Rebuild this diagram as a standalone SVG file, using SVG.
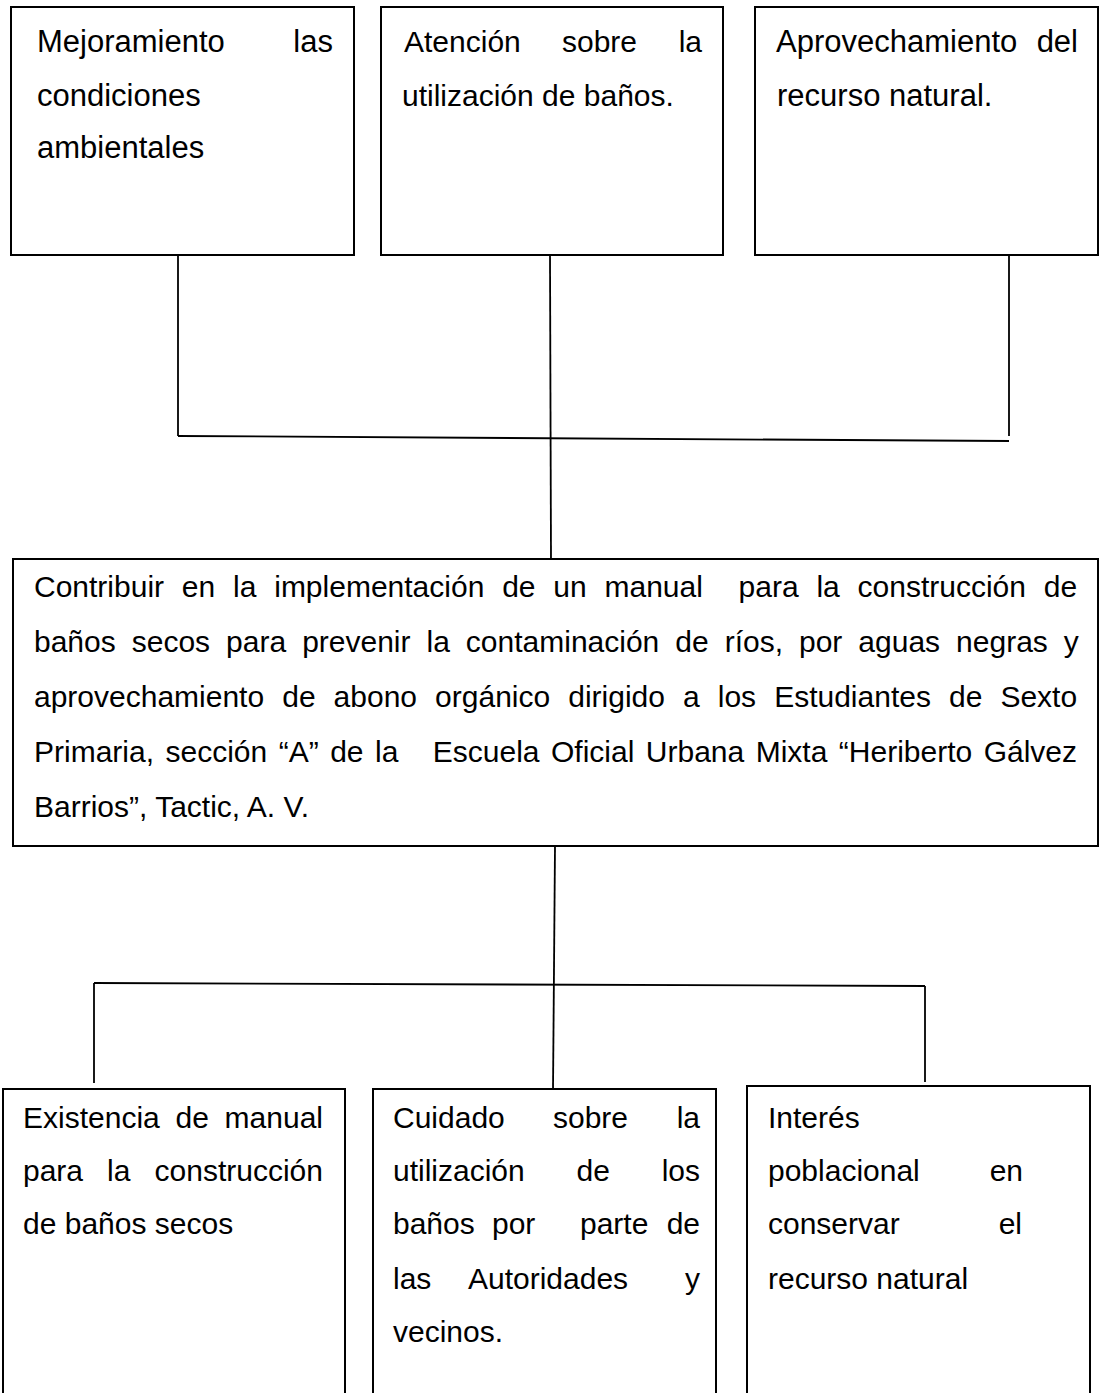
<svg xmlns="http://www.w3.org/2000/svg" width="1100" height="1393" viewBox="0 0 1100 1393">
<style>
.box{fill:#fff;stroke:#000;stroke-width:2}
.con line{stroke:#000;stroke-width:1.8}
text{font-family:"Liberation Sans",Arial,sans-serif;font-size:30px;fill:#000}
.big text{font-size:31px}
.e{text-anchor:end}
</style>
<rect width="1100" height="1393" fill="#fff"/>
<g id="connectors" class="con">
<line x1="178" y1="255" x2="178" y2="436"/>
<line x1="1009" y1="255" x2="1009" y2="436"/>
<line x1="178" y1="436" x2="1009" y2="441"/>
<line x1="550" y1="255" x2="551" y2="559"/>
<line x1="555" y1="846" x2="553" y2="1091"/>
<line x1="94" y1="983" x2="925" y2="986"/>
<line x1="94" y1="983" x2="94" y2="1083"/>
<line x1="925" y1="986" x2="925" y2="1082"/>
</g>
<g id="top1" class="big">
<rect class="box" x="11" y="7" width="343" height="248"/>
<text x="37" y="52">Mejoramiento</text><text class="e" x="333" y="52">las</text>
<text x="37" y="106">condiciones</text>
<text x="37" y="158">ambientales</text>
</g>
<g id="top2">
<rect class="box" x="381" y="7" width="342" height="248"/>
<text x="404" y="52">Atención</text><text x="562" y="52">sobre</text><text class="e" x="702" y="52">la</text>
<text x="402" y="106">utilización de baños.</text>
</g>
<g id="top3" class="big">
<rect class="box" x="755" y="7" width="343" height="248"/>
<text x="776" y="52">Aprovechamiento</text><text class="e" x="1078" y="52">del</text>
<text x="777" y="106">recurso natural.</text>
</g>
<g id="center">
<rect class="box" x="13" y="559" width="1085" height="287"/>
<text x="34" y="597" xml:space="preserve" style="word-spacing:9.48px">Contribuir en la implementación de un manual  para la construcción de</text>
<text x="34" y="652" style="word-spacing:7.66px">baños secos para prevenir la contaminación de ríos, por aguas negras y</text>
<text x="34" y="707" style="word-spacing:9.72px">aprovechamiento de abono orgánico dirigido a los Estudiantes de Sexto</text>
<text x="34" y="762" xml:space="preserve" style="word-spacing:3.14px">Primaria, sección “A” de la   Escuela Oficial Urbana Mixta “Heriberto Gálvez</text>
<text x="34" y="817">Barrios”, Tactic, A. V.</text>
</g>
<g id="bottom1">
<rect class="box" x="3" y="1089" width="342" height="330"/>
<text x="23" y="1128">Existencia</text><text x="175.5" y="1128">de</text><text class="e" x="323" y="1128">manual</text>
<text x="23" y="1181">para</text><text x="107" y="1181">la</text><text class="e" x="323" y="1181">construcción</text>
<text x="23" y="1234">de baños secos</text>
</g>
<g id="bottom2">
<rect class="box" x="373" y="1089" width="343" height="330"/>
<text x="393" y="1128">Cuidado</text><text x="553" y="1128">sobre</text><text class="e" x="700" y="1128">la</text>
<text x="393" y="1181">utilización</text><text x="576.5" y="1181">de</text><text class="e" x="700" y="1181">los</text>
<text x="393" y="1234">baños</text><text x="492" y="1234">por</text><text x="580" y="1234">parte</text><text class="e" x="700" y="1234">de</text>
<text x="393" y="1289">las</text><text x="468" y="1289">Autoridades</text><text class="e" x="700" y="1289">y</text>
<text x="393" y="1342">vecinos.</text>
</g>
<g id="bottom3">
<rect class="box" x="747" y="1086" width="343" height="330"/>
<text x="768" y="1128">Interés</text>
<text x="768" y="1181">poblacional</text><text class="e" x="1023" y="1181">en</text>
<text x="768" y="1234">conservar</text><text class="e" x="1022" y="1234">el</text>
<text x="768" y="1289">recurso natural</text>
</g>
</svg>
